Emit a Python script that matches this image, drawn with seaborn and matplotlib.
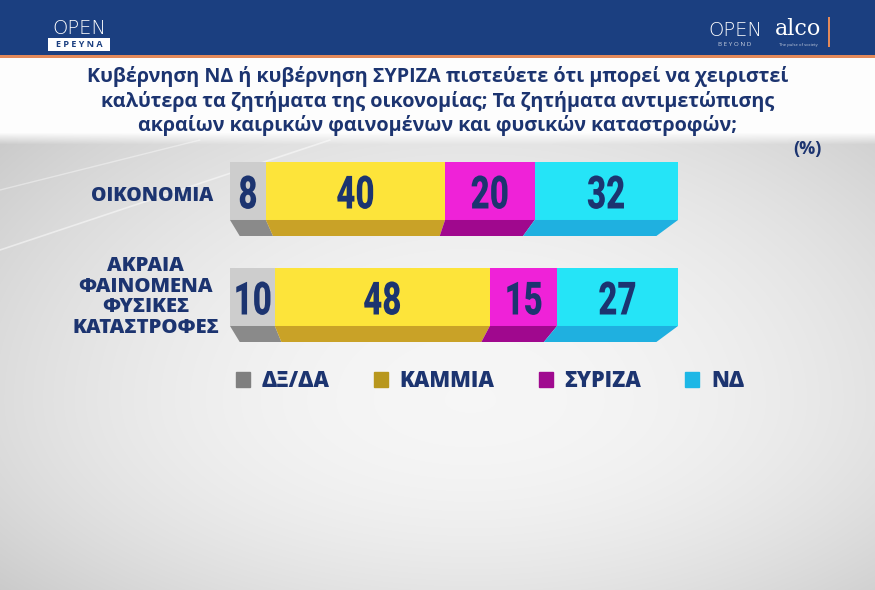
import numpy as np
import pandas as pd
import seaborn as sns
import matplotlib.pyplot as plt
from matplotlib.patches import Polygon, Rectangle, Patch
from matplotlib.patheffects import AbstractPathEffect
from matplotlib.transforms import Affine2D

# data (%)
categories = ["ΟΙΚΟΝΟΜΙΑ", "ΑΚΡΑΙΑ\nΦΑΙΝΟΜΕΝΑ\nΦΥΣΙΚΕΣ\nΚΑΤΑΣΤΡΟΦΕΣ"]
series = ["ΔΞ/ΔΑ", "ΚΑΜΜΙΑ", "ΣΥΡΙΖΑ", "ΝΔ"]
dk_na = [8, 10]
kammia = [40, 48]
syriza = [20, 15]
nd = [32, 27]

title = ("Κυβέρνηση ΝΔ ή κυβέρνηση ΣΥΡΙΖΑ πιστεύετε ότι μπορεί να χειριστεί\n"
         "καλύτερα τα ζητήματα της οικονομίας; Τα ζητήματα αντιμετώπισης\n"
         "ακραίων καιρικών φαινομένων και φυσικών καταστροφών;")

front_colors = ["#cdcdcd", "#fde43a", "#ef22d8", "#25e4f7"]
side_colors = ["#8a8a8a", "#c9a227", "#a0088e", "#1fb0e0"]
legend_colors = ["#7f7f7f", "#b8971d", "#a0098f", "#1db7e6"]
navy = "#1c3470"


class Squeeze(AbstractPathEffect):
    # narrows glyphs horizontally (condensed look), text stays a Text artist
    def __init__(self, sx):
        super().__init__()
        self.sx = sx

    def draw_path(self, renderer, gc, tpath, affine, rgbFace=None):
        ext = tpath.get_extents()
        c = (ext.x0 + ext.x1) / 2
        sq = Affine2D().translate(-c, 0).scale(self.sx, 1).translate(c, 0)
        renderer.draw_path(gc, tpath, sq + affine, rgbFace)


df = pd.DataFrame({"cat": categories, "ΔΞ/ΔΑ": dk_na, "ΚΑΜΜΙΑ": kammia,
                   "ΣΥΡΙΖΑ": syriza, "ΝΔ": nd})
cum = df[series].cumsum(axis=1)
cum["cat"] = df["cat"]

sns.set_theme(style="white")
plt.rcParams["font.family"] = ["Open Sans", "DejaVu Sans"]

W, H = 875, 590
fig = plt.figure(figsize=(W / 100, H / 100), dpi=100)

# background (pixel coordinates)
bg = fig.add_axes([0, 0, 1, 1])
yy, xx = np.mgrid[0:H, 0:W]
dx = (xx - 470) / 470
dy = np.where(yy < 400, (yy - 400) / 260, (yy - 400) / 190)
v = 0.965 - 0.10 * dx ** 2 - 0.07 * dy ** 2
t = np.clip((yy - 132) / 12, 0, 1)
v = 0.995 * (1 - t) + v * t
bg.imshow(np.dstack([v, v, v]), extent=[0, W, H, 0], aspect="auto")
bg.set_xlim(0, W)
bg.set_ylim(H, 0)
bg.axis("off")

# faint streaks top-left
bg.plot([0, 330], [250, 140], color="white", lw=1.2, alpha=0.5)
bg.plot([0, 200], [190, 140], color="white", lw=1.0, alpha=0.4)

# header band
bg.add_patch(Rectangle((0, 0), W, 55, color="#1b3f80", lw=0))
bg.add_patch(Rectangle((0, 55), W, 3, color="#e3895a", lw=0))
bg.text(79, 29, "OPEN", ha="center", va="center", color="white",
        fontsize=14, family="DejaVu Sans", weight="light")
bg.add_patch(Rectangle((48, 38), 62, 13, color="white", lw=0))
bg.text(79, 44.5, "Ε Ρ Ε Υ Ν Α", ha="center", va="center", color="#1b3f80",
        fontsize=6.5, weight="bold")
bg.text(735, 30, "OPEN", ha="center", va="center", color="white",
        fontsize=14, family="DejaVu Sans", weight="light")
bg.text(735, 45, "B E Y O N D", ha="center", va="center", color="#c8d0e0",
        fontsize=4.5)
bg.text(798, 29, "alco", ha="center", va="center", color="white",
        fontsize=16, family="DejaVu Serif")
bg.text(798, 45, "The pulse of society", ha="center", va="center",
        color="#c8d0e0", fontsize=3)
bg.add_patch(Rectangle((828, 17), 2, 30, color="#e3895a", lw=0))

bg.text(438, 101, title, ha="center", va="center", color=navy, fontsize=14.2,
        weight="bold", linespacing=1.22)
bg.text(807, 149, "(%)", ha="center", va="center", color=navy, fontsize=13,
        weight="bold")

# bars
ax = fig.add_axes([230 / W, 1 - 350 / H, 448 / W, 212 / H])
ax.patch.set_alpha(0)
h = 0.547
depth = 0.151
cx, k = 31, 0.93

for s, c in reversed(list(zip(series, front_colors))):
    sns.barplot(data=cum, x=s, y="cat", color=c, width=h, orient="h",
                saturation=1, linewidth=0, ax=ax)

for i in range(len(categories)):
    left = 0
    for s, sc in zip(series, side_colors):
        val = df.loc[i, s]
        x0, x1 = left, left + val
        yt, yb = i + h / 2, i + h / 2 + depth
        ax.add_patch(Polygon([(x0, yt), (x1, yt),
                              (cx + (x1 - cx) * k, yb), (cx + (x0 - cx) * k, yb)],
                             closed=True, color=sc, lw=0))
        ax.text(left + val / 2, i, str(val), ha="center", va="center_baseline",
                color=navy, fontsize=33, weight="black", family="Roboto",
                path_effects=[Squeeze(0.72)])
        left = x1

ax.text(-3.8, 0.05, categories[0], ha="right", va="center", color=navy,
        fontsize=14, weight="heavy")
ax.text(-18.8, 1.0, categories[1], ha="center", va="center", color=navy,
        fontsize=14.6, weight="heavy", linespacing=1.05, multialignment="center")

ax.set_xlim(0, 100)
ax.set_ylim(1.5, -0.5)
ax.axis("off")

handles = [Patch(color=c) for c in legend_colors]
fig.legend(handles, series, loc="center", bbox_to_anchor=(490 / W, 1 - 381 / H),
           ncol=4, frameon=False, handlelength=0.65, handleheight=0.65,
           handletextpad=0.55, columnspacing=2.05, labelcolor=navy,
           prop={"weight": "heavy", "size": 15.5})

fig.savefig("out.png", dpi=100)
